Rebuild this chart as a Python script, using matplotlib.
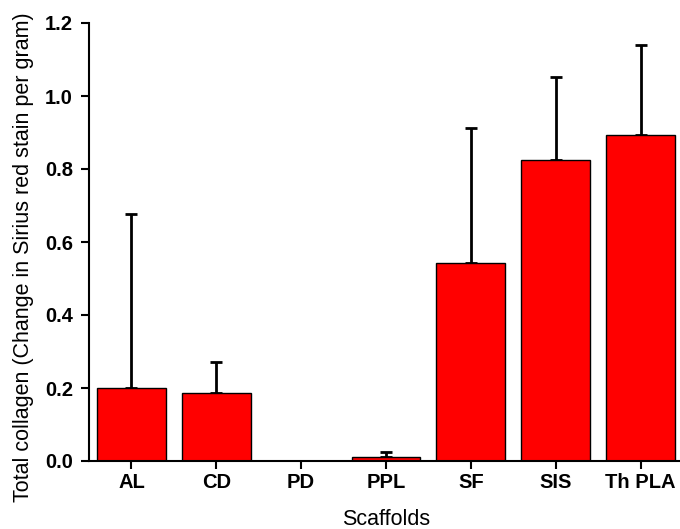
import matplotlib
matplotlib.use("Agg")
import matplotlib.pyplot as plt
import numpy as np

categories = ["AL", "CD", "PD", "PPL", "SF", "SIS", "Th PLA"]
means = [0.201, 0.185, 0.0, 0.012, 0.543, 0.825, 0.894]
errors = [0.476, 0.085, 0.0, 0.013, 0.370, 0.226, 0.246]
yticks = [0.0, 0.2, 0.4, 0.6, 0.8, 1.0, 1.2]

plt.rcParams['font.family'] = ['Liberation Sans', 'DejaVu Sans']

fig = plt.figure(figsize=(6.8, 5.29), dpi=100)
ax = fig.add_axes([89/680, 68/529, 594/680, 438/529])

x = np.arange(len(categories))
ax.bar(x, means, width=0.81, color='#ff0000', edgecolor='black', linewidth=1.0, zorder=2)
err_low = np.zeros(len(errors))
ax.errorbar(x, means, yerr=[err_low, errors], fmt='none', ecolor='black',
            elinewidth=2.0, capsize=4, capthick=2.0, zorder=1)

ax.set_xlim(-0.5, 6.5)
ax.set_ylim(0, 1.2)
ax.set_xticks(x)
ax.set_xticklabels(categories, fontsize=14.5, fontweight='bold')
ax.set_yticks(yticks)
ax.set_yticklabels([f"{t:.1f}" for t in yticks], fontsize=14.5, fontweight='bold')
ax.tick_params(axis='both', direction='out', length=6, width=1.5)
ax.tick_params(axis='x', pad=3)
ax.tick_params(axis='y', pad=5.5)

for s in ['top', 'right']:
    ax.spines[s].set_visible(False)
for s in ['left', 'bottom']:
    ax.spines[s].set_linewidth(1.5)

ax.set_xlabel("Scaffolds", fontsize=15.5)
ax.set_ylabel("Total collagen (Change in Sirius red stain per gram)", fontsize=15.5)
ax.xaxis.set_label_coords(0.5, -0.1096)
ax.yaxis.set_label_coords(-0.0934, 0.466)

fig.savefig("out.png", dpi=100)
